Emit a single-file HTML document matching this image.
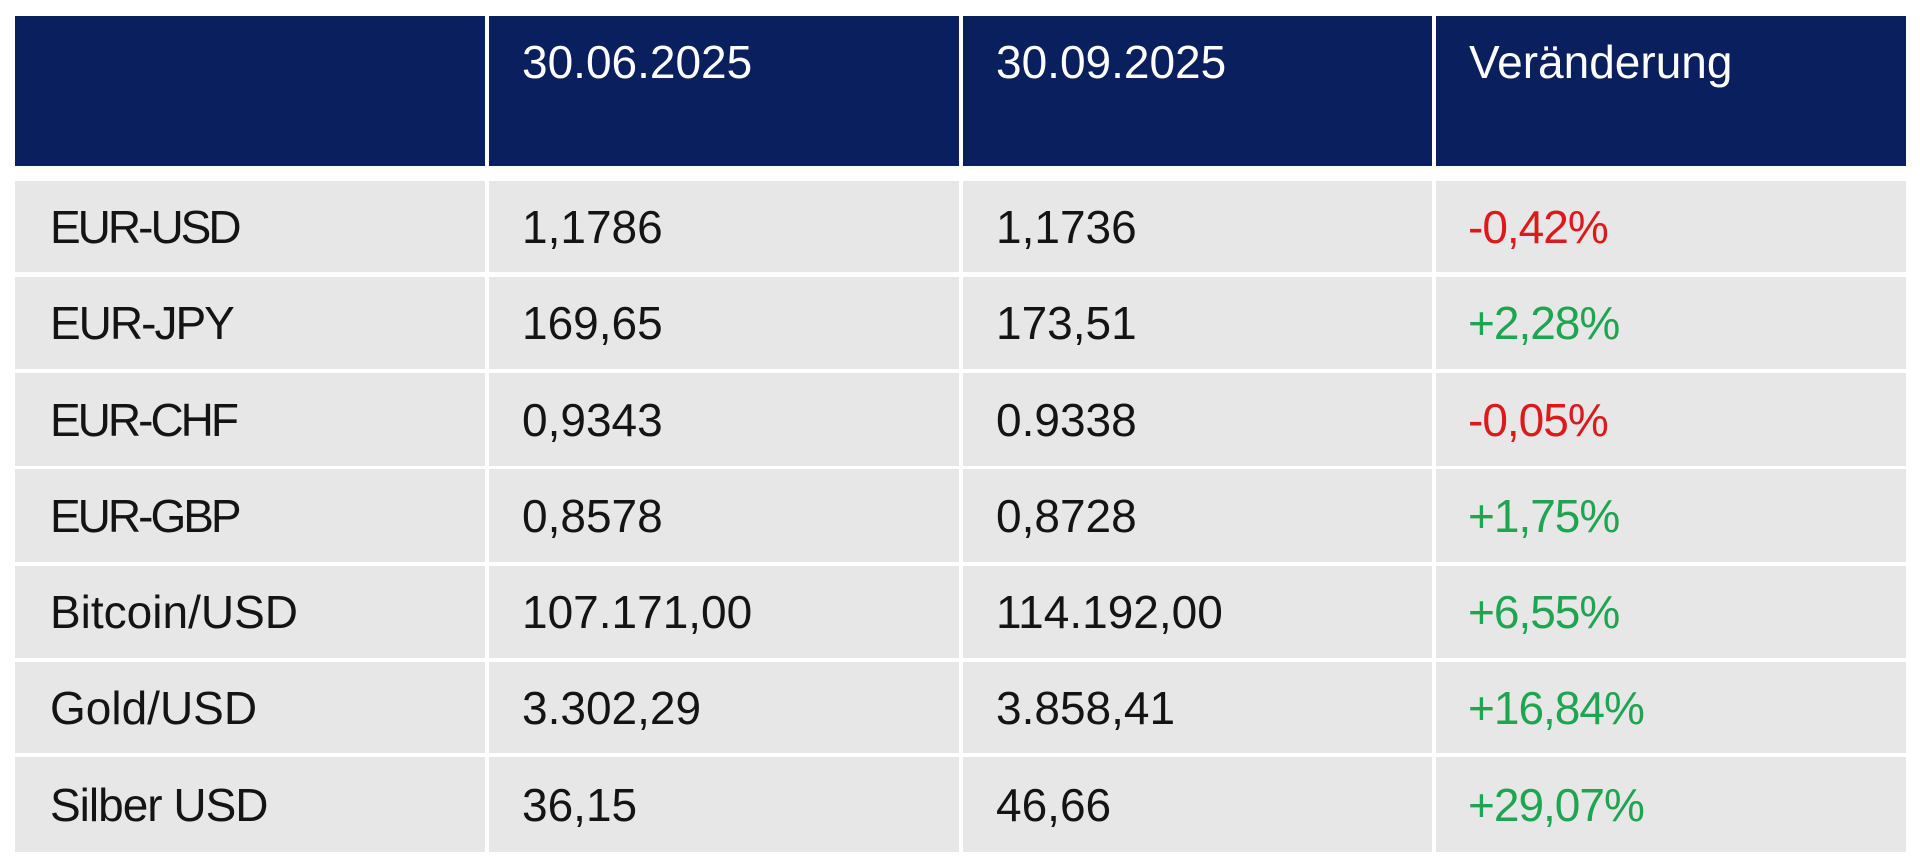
<!DOCTYPE html>
<html>
<head>
<meta charset="utf-8">
<style>
  html, body { margin:0; padding:0; background:#ffffff; }
  body { width:1920px; height:866px; position:relative; overflow:hidden;
         font-family:"Liberation Sans", Arial, sans-serif; }
  .c { position:absolute; box-sizing:border-box; font-size:46px; white-space:nowrap; }
  .h { background:#0a1f5d; color:#ffffff; top:16px; height:150px; }
  .h span { position:absolute; top:23px; line-height:46px; }
  .b { background:#e7e7e7; color:#141414; display:flex; align-items:center; }
  .c1 { left:15px; width:470px; padding-left:35px; }
  .c2 { left:489px; width:470px; padding-left:33px; }
  .c3 { left:963px; width:469px; padding-left:33px; }
  .c4 { left:1436px; width:470px; padding-left:32px; }
  .h.c2 span, .h.c3 span, .h.c4 span { left:33px; }
  .red { color:#dc1a1c; letter-spacing:-1px; }
  .grn { color:#1fa552; letter-spacing:-1px; }
</style>
</head>
<body>
  <div class="c h c1"></div>
  <div class="c h c2"><span>30.06.2025</span></div>
  <div class="c h c3"><span>30.09.2025</span></div>
  <div class="c h c4"><span>Veränderung</span></div>

  <!-- Row 1 -->
  <div class="c b c1" style="top:181px;height:91px;letter-spacing:-3px;">EUR-USD</div>
  <div class="c b c2" style="top:181px;height:91px;">1,1786</div>
  <div class="c b c3" style="top:181px;height:91px;">1,1736</div>
  <div class="c b c4" style="top:181px;height:91px;"><span class="red">-0,42%</span></div>

  <!-- Row 2 -->
  <div class="c b c1" style="top:277px;height:92px;letter-spacing:-2px;">EUR-JPY</div>
  <div class="c b c2" style="top:277px;height:92px;">169,65</div>
  <div class="c b c3" style="top:277px;height:92px;">173,51</div>
  <div class="c b c4" style="top:277px;height:92px;"><span class="grn">+2,28%</span></div>

  <!-- Row 3 -->
  <div class="c b c1" style="top:373px;height:93px;letter-spacing:-3px;">EUR-CHF</div>
  <div class="c b c2" style="top:373px;height:93px;">0,9343</div>
  <div class="c b c3" style="top:373px;height:93px;">0.9338</div>
  <div class="c b c4" style="top:373px;height:93px;"><span class="red">-0,05%</span></div>

  <!-- Row 4 -->
  <div class="c b c1" style="top:469px;height:93px;letter-spacing:-3px;">EUR-GBP</div>
  <div class="c b c2" style="top:469px;height:93px;">0,8578</div>
  <div class="c b c3" style="top:469px;height:93px;">0,8728</div>
  <div class="c b c4" style="top:469px;height:93px;"><span class="grn">+1,75%</span></div>

  <!-- Row 5 -->
  <div class="c b c1" style="top:566px;height:92px;">Bitcoin/USD</div>
  <div class="c b c2" style="top:566px;height:92px;">107.171,00</div>
  <div class="c b c3" style="top:566px;height:92px;">114.192,00</div>
  <div class="c b c4" style="top:566px;height:92px;"><span class="grn">+6,55%</span></div>

  <!-- Row 6 -->
  <div class="c b c1" style="top:662px;height:91px;">Gold/USD</div>
  <div class="c b c2" style="top:662px;height:91px;">3.302,29</div>
  <div class="c b c3" style="top:662px;height:91px;">3.858,41</div>
  <div class="c b c4" style="top:662px;height:91px;"><span class="grn">+16,84%</span></div>

  <!-- Row 7 -->
  <div class="c b c1" style="top:757px;height:95px;letter-spacing:-1px;">Silber USD</div>
  <div class="c b c2" style="top:757px;height:95px;">36,15</div>
  <div class="c b c3" style="top:757px;height:95px;">46,66</div>
  <div class="c b c4" style="top:757px;height:95px;"><span class="grn">+29,07%</span></div>
</body>
</html>
